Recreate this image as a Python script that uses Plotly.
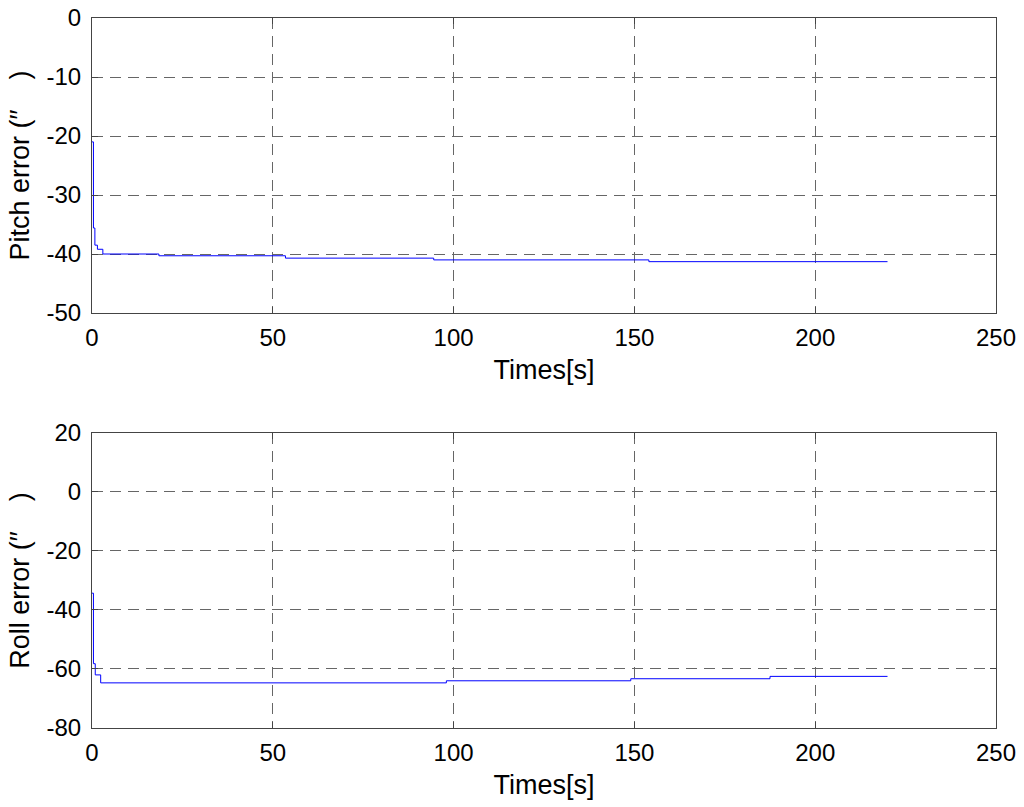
import plotly.graph_objects as go
from plotly.subplots import make_subplots

# Pitch error (top)
pitch_t = [0, 0.4, 0.8, 1.5, 3, 18.5, 53.5, 94.5, 154, 220]
pitch_v = [-21, -35.6, -38.5, -39.2, -40, -40.3, -40.7, -41.0, -41.3, -41.3]

# Roll error (bottom)
roll_t = [0, 0.4, 0.9, 2.4, 98, 149, 187.5, 220]
roll_v = [-34.3, -58.2, -62, -64.7, -64.0, -63.3, -62.5, -62.5]

x_ticks = [0, 50, 100, 150, 200, 250]
pitch_yticks = [0, -10, -20, -30, -40, -50]
roll_yticks = [20, 0, -20, -40, -60, -80]

fig = make_subplots(rows=2, cols=1)

fig.add_trace(go.Scatter(x=pitch_t, y=pitch_v, mode="lines", line_shape="hv",
                         line=dict(color="#0000ff", width=1)), row=1, col=1)
fig.add_trace(go.Scatter(x=roll_t, y=roll_v, mode="lines", line_shape="hv",
                         line=dict(color="#0000ff", width=1)), row=2, col=1)

font = "Liberation Sans, Arial, sans-serif"
common = dict(showgrid=True, gridcolor="#666666", griddash="11px,7px", gridwidth=1,
              showline=True, linecolor="#444444", linewidth=1, mirror="ticks",
              ticks="inside", ticklen=6, tickcolor="#444444", zeroline=False,
              automargin=False, ticklabeloverflow="allow",
              tickfont=dict(family=font, size=24, color="black"))

def lbl(vals):
    return [str(v) for v in vals]

title_font = dict(family=font, size=27, color="black")

fig.update_xaxes(range=[0, 250], tickvals=x_ticks, ticktext=lbl(x_ticks),
                 ticklabelstandoff=3,
                 title=dict(text="Times[s]", font=title_font, standoff=10), **common)
fig.update_yaxes(range=[-50, 0], tickvals=pitch_yticks, ticktext=lbl(pitch_yticks),
                 ticklabelstandoff=5,
                 title=dict(text="Pitch error (′′    )", font=title_font, standoff=9),
                 row=1, col=1, **common)
fig.update_yaxes(range=[-80, 20], tickvals=roll_yticks, ticktext=lbl(roll_yticks),
                 ticklabelstandoff=5,
                 title=dict(text="Roll error (′′    )", font=title_font, standoff=9),
                 row=2, col=1, **common)

fig.update_layout(
    width=1024, height=807,
    margin=dict(l=92, r=28, t=18, b=79),
    paper_bgcolor="white", plot_bgcolor="white",
    showlegend=False,
    xaxis=dict(domain=[0, 1]), xaxis2=dict(domain=[0, 1]),
    yaxis=dict(domain=[0.5845, 1.0]), yaxis2=dict(domain=[0.0, 0.4155]),
)

# remove the default page margin so the figure fills the window exactly
fig.write_html("out.html", config={"displayModeBar": False},
               post_script="document.body.style.margin='0';")
